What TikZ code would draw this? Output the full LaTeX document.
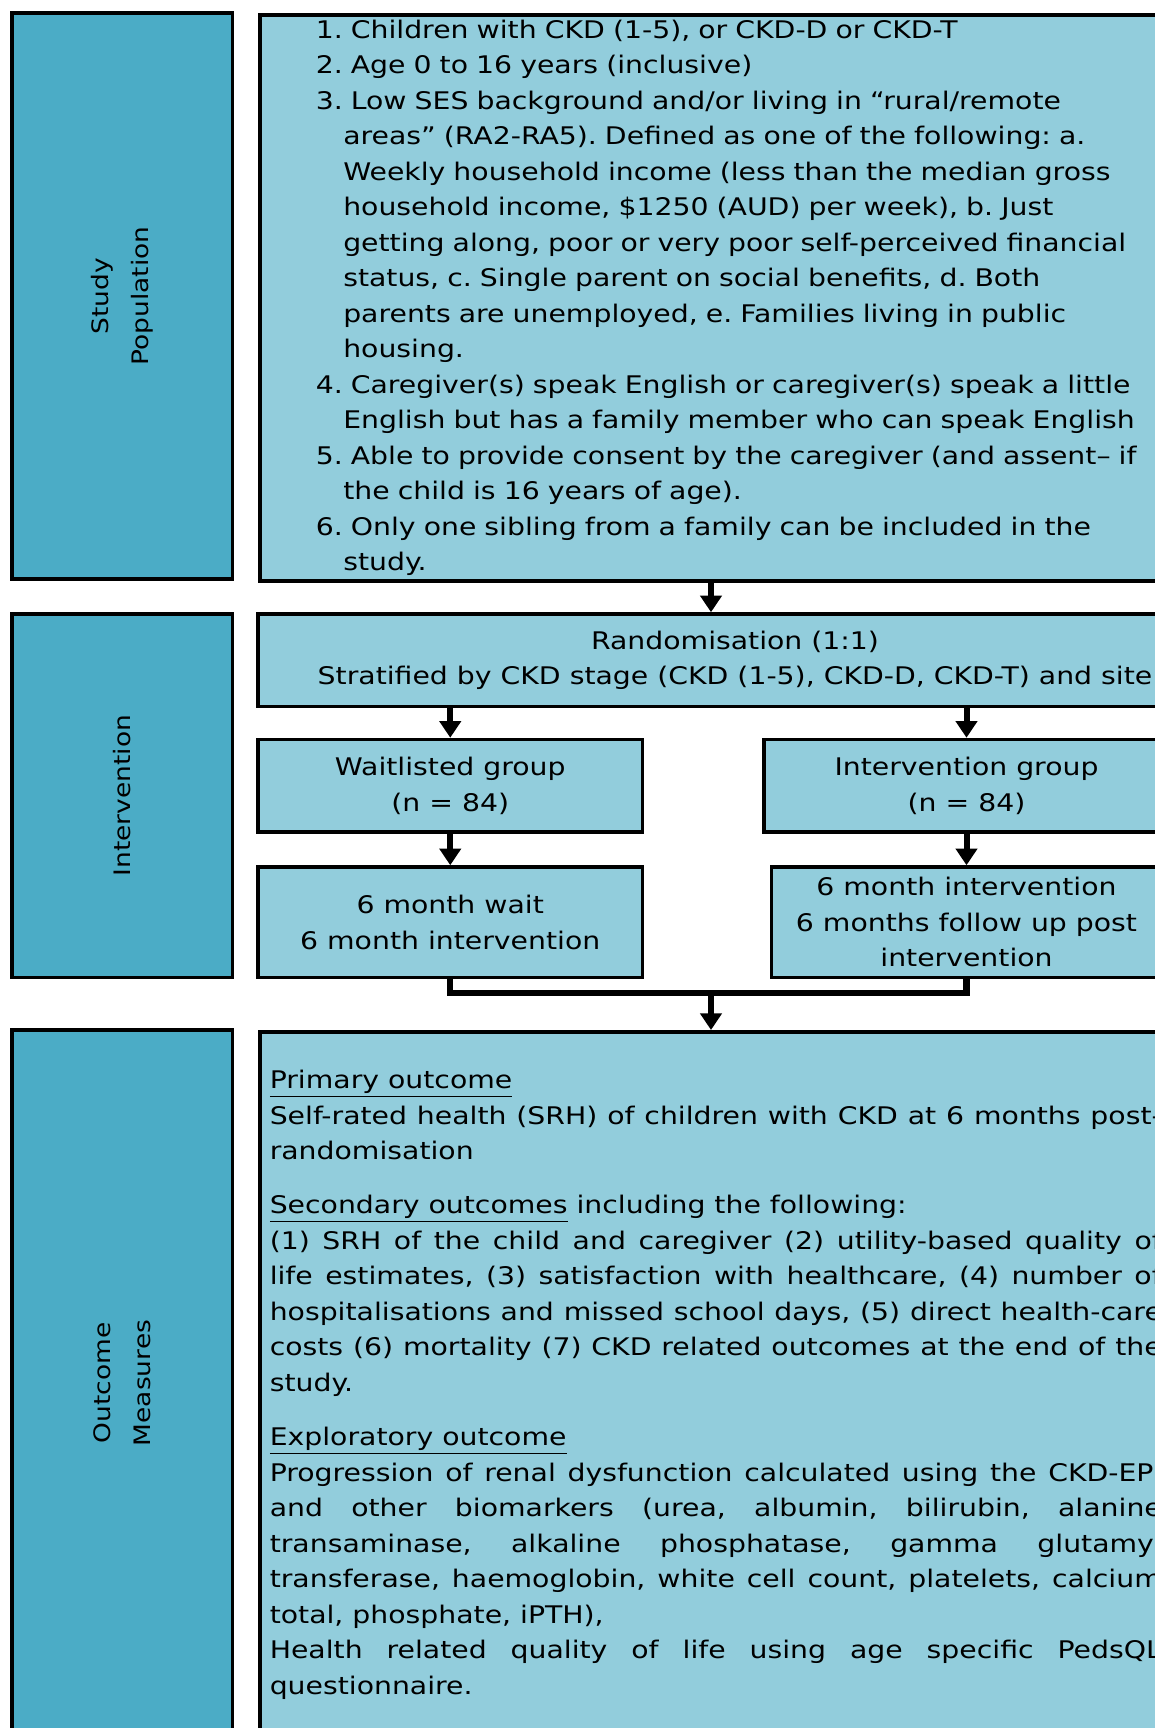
\documentclass[tikz,border=0pt]{standalone}
\usepackage{fontspec}
\setmainfont{DejaVu Sans}[FakeStretch=1.167]
\usetikzlibrary{arrows.meta}
\definecolor{sideblue}{HTML}{4BACC6}
\definecolor{boxblue}{HTML}{92CDDC}
\frenchspacing

\begin{document}
\begin{tikzpicture}[>=Latex,
  sidebox/.style={draw=black,line width=2pt,fill=sideblue,rotate=90,align=center,inner sep=0pt,font=\fontsize{12.9}{22.6}\selectfont},
  mainbox/.style={draw=black,line width=2pt,fill=boxblue,inner sep=0pt,font=\fontsize{13.8}{20.2}\selectfont},
  arr/.style={-{Triangle[width=12pt,length=9.5pt]},line width=3.4pt},
  joinline/.style={line width=3.6pt}]
\useasboundingbox (0,0) rectangle (23.1,-34.56);
\clip (0,0) rectangle (23.1,-34.56);
\fill[white] (0,0) rectangle (23.1,-34.56);
% phase labels
\node[sidebox,minimum width=11.32cm,minimum height=4.41cm] (side1) at (2.445,-5.92) {Study\\Population};
\node[sidebox,minimum width=7.27cm,minimum height=4.41cm] (side2) at (2.445,-15.915) {Intervention};
\node[sidebox,minimum width=14.12cm,minimum height=4.41cm] (side3) at (2.445,-27.66) {Outcome\\Measures};
% eligibility
\node[mainbox,anchor=north west,minimum height=11.32cm,inner xsep=1.12cm,text width=17.2cm,align=left] (crit) at (5.16,-0.26) {%
\hangindent=0.55cm\hangafter=1 1. Children with CKD (1-5), or CKD-D or CKD-T\par
\hangindent=0.55cm\hangafter=1 2. Age 0 to 16 years (inclusive)\par
\hangindent=0.55cm\hangafter=1 3. Low SES background and/or living in “rural/remote\newline areas” (RA2-RA5). Defined as one of the following: a.\newline Weekly household income (less than the median gross\newline household income, \$1250 (AUD) per week), b. Just\newline getting along, poor or very poor self-perceived financial\newline status, c. Single parent on social benefits, d. Both\newline parents are unemployed, e. Families living in public\newline housing.\par
\hangindent=0.55cm\hangafter=1 4. Caregiver(s) speak English or caregiver(s) speak a little\newline English but has a family member who can speak English\par
\hangindent=0.55cm\hangafter=1 5. Able to provide consent by the caregiver (and assent– if\newline the child is 16 years of age).\par
\hangindent=0.55cm\hangafter=1 6. Only one sibling from a family can be included in the\newline study.\par};
% randomisation and arms
\node[mainbox,minimum width=19.08cm,minimum height=1.85cm,align=center] (rand) at (14.7,-13.205) {Randomisation (1:1)\\Stratified by CKD stage (CKD (1-5), CKD-D, CKD-T) and site};
\node[mainbox,minimum width=7.69cm,minimum height=1.85cm,align=center] (wait) at (9.005,-15.715) {Waitlisted group\\(n = 84)};
\node[mainbox,minimum width=8.1cm,minimum height=1.85cm,align=center] (intv) at (19.33,-15.715) {Intervention group\\(n = 84)};
\node[mainbox,minimum width=7.69cm,minimum height=2.21cm,align=center] (waitm) at (9.005,-18.445) {6 month wait\\6 month intervention};
\node[mainbox,minimum width=7.8cm,minimum height=2.21cm,align=center] (intvm) at (19.33,-18.445) {6 month intervention\\6 months follow up post\\intervention};
% outcomes
\node[mainbox,anchor=north west,minimum height=14.12cm,inner xsep=0.2cm,text width=17.84cm,align=justify] (outc) at (5.16,-20.6) {%
\underline{Primary outcome}\\
\makebox[\hsize][s]{Self-rated health (SRH) of children with CKD at 6 months post-}\\
randomisation\par\vspace{10.6pt}
\underline{Secondary outcomes} including the following:\\
\makebox[\hsize][s]{(1) SRH of the child and caregiver (2) utility-based quality of}\\
\makebox[\hsize][s]{life estimates, (3) satisfaction with healthcare, (4) number of}\\
\makebox[\hsize][s]{hospitalisations and missed school days, (5) direct health-care}\\
\makebox[\hsize][s]{costs (6) mortality (7) CKD related outcomes at the end of the}\\
study.\par\vspace{10.6pt}
\underline{Exploratory outcome}\\
\makebox[\hsize][s]{Progression of renal dysfunction calculated using the CKD-EPI}\\
\makebox[\hsize][s]{and other biomarkers (urea, albumin, bilirubin, alanine}\\
\makebox[\hsize][s]{transaminase, alkaline phosphatase, gamma glutamyl}\\
\makebox[\hsize][s]{transferase, haemoglobin, white cell count, platelets, calcium}\\
total, phosphate, iPTH),\\
\makebox[\hsize][s]{Health related quality of life using age specific PedsQL}\\
questionnaire.\par};
% connectors
\coordinate (jn) at (14.22,-19.86);
\draw[arr] (crit.south -| jn) -- (rand.north -| jn);
\draw[arr] (rand.south -| wait.north) -- (wait.north);
\draw[arr] (rand.south -| intv.north) -- (intv.north);
\draw[arr] (wait) -- (waitm);
\draw[arr] (intv) -- (intvm);
\draw[joinline] (waitm.south) |- (jn) -| (intvm.south);
\draw[arr] (jn) -- (outc.north -| jn);
\end{tikzpicture}
\end{document}
